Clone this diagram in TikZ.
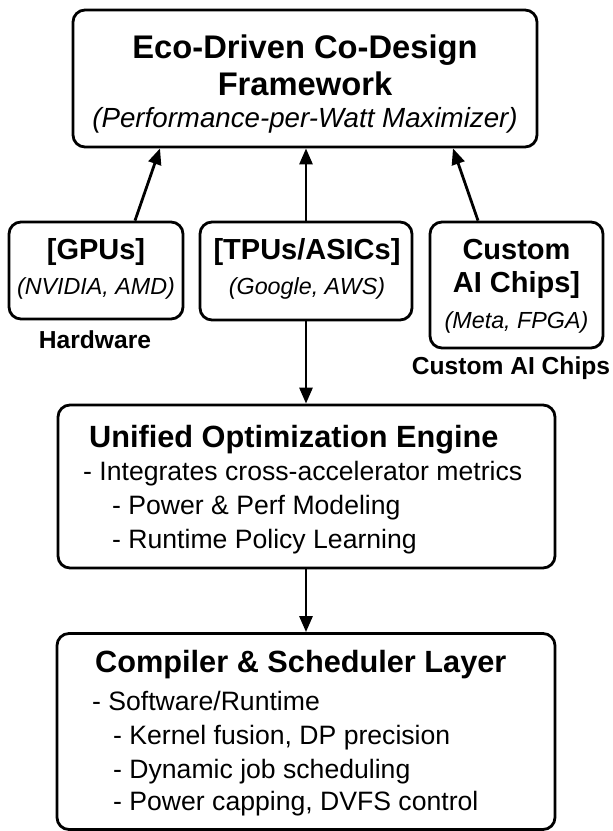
\documentclass[tikz,border=0pt]{standalone}
\usepackage{fontspec}
\setmainfont{Liberation Sans}
\usetikzlibrary{arrows.meta}
\begin{document}
\begin{tikzpicture}[x=1pt,y=-1pt,
  box/.style={draw, line width=2.8pt, rounded corners=12pt, inner sep=0pt},
  arr/.style={line width=2.8pt, -{Triangle[length=16pt,width=13pt]}},
  hdr/.style={font=\fontsize{32.7}{34}\selectfont\bfseries, inner sep=0pt},
  hdrit/.style={font=\fontsize{27.7}{30}\selectfont\itshape, inner sep=0pt},
  boxcap/.style={font=\fontsize{29}{30}\selectfont\bfseries, inner sep=0pt},
  capit/.style={font=\fontsize{23.3}{25}\selectfont\itshape, inner sep=0pt},
  lbl/.style={font=\fontsize{24.6}{26}\selectfont\bfseries, inner sep=0pt},
  ttl/.style={font=\fontsize{30.7}{32}\selectfont\bfseries, inner sep=0pt, anchor=west},
  body/.style={font=\fontsize{26.6}{28}\selectfont, inner sep=0pt, anchor=west}
]
\useasboundingbox (0,0) rectangle (613,831);

% boxes
\node[box, minimum width=464pt, minimum height=137pt] (top) at (305,78.5) {};
\node[box, minimum width=174pt, minimum height=97pt] (gpu) at (96,270.5) {};
\node[box, minimum width=212pt, minimum height=98pt] (tpu) at (306,271) {};
\node[box, minimum width=173pt, minimum height=126pt] (cus) at (516.5,285) {};
\node[box, minimum width=497pt, minimum height=163pt] (uni) at (306.5,486.5) {};
\node[box, minimum width=498pt, minimum height=196pt] (cmp) at (306,731.5) {};

% top texts
\node[hdr] (t1) at (305,50) {Eco-Driven Co-Design};
\node[hdr] (t2) at (305,84) {Framework};
\node[hdrit] (t3) at (305,120) {(Performance-per-Watt Maximizer)};

% row texts
\node[boxcap] (g1) at (96,252) {[GPUs]};
\node[capit] (g2) at (96,288) {(NVIDIA, AMD)};
\node[boxcap] (p1) at (307,252) {[TPUs/ASICs]};
\node[capit] (p2) at (307,288) {(Google, AWS)};
\node[boxcap] (c1) at (516.5,250) {Custom};
\node[boxcap] (c2) at (516.5,285) {AI Chips]};
\node[capit] (c3) at (516.5,322) {(Meta, FPGA)};
\node[lbl] (hw) at (95,340) {Hardware};
\node[lbl] (cl) at (511,368) {Custom AI Chips};

% unified texts
\node[ttl] (u1) at (89,440) {Unified Optimization Engine};
\node[body] (u2) at (83,474) {- Integrates cross-accelerator metrics};
\node[body] (u3) at (112,508) {- Power \& Perf Modeling};
\node[body] (u4) at (112,542) {- Runtime Policy Learning};

% compiler texts
\node[ttl] (k1) at (95,665) {Compiler \& Scheduler Layer};
\node[body] (k2) at (92,701) {- Software/Runtime};
\node[body] (k3) at (113,738) {- Kernel fusion, DP precision};
\node[body] (k4) at (113,772) {- Dynamic job scheduling};
\node[body] (k5) at (113,804) {- Power capping, DVFS control};

% connectors
\draw[arr] ([xshift=39pt]gpu.north) -- ([xshift=-145pt]top.south);
\draw[arr] (tpu.north) -- (tpu.north |- top.south);
\draw[arr] ([xshift=-38.5pt]cus.north) -- ([xshift=148pt]top.south);
\draw[arr] (tpu.south) -- (tpu.south |- uni.north);
\draw[arr] (uni.south -| tpu.south) -- (tpu.south |- cmp.north);
\end{tikzpicture}
\end{document}
